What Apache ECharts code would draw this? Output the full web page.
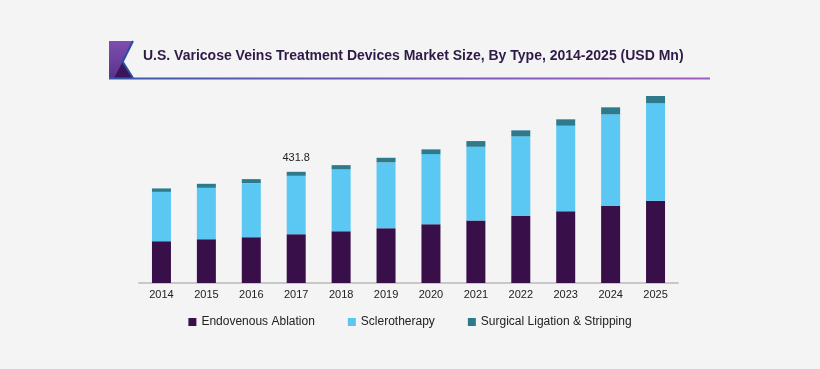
<!DOCTYPE html>
<html>
<head>
<meta charset="utf-8">
<script src="https://cdn.jsdelivr.net/npm/echarts@6/dist/echarts.min.js"></script>
<style>
html,body{margin:0;padding:0;background:#f4f4f4;}
#chart{width:820px;height:369px;}
</style>
</head>
<body>
<div id="chart"></div>
<script>
const years = ['2014','2015','2016','2017','2018','2019','2020','2021','2022','2023','2024','2025'];
const endovenous = [162.2,170.0,177.8,189.4,201.0,212.8,228.3,242.7,260.6,278.9,299.5,319.0];
const sclerotherapy = [191.8,199.6,210.0,226.8,240.0,255.6,272.3,286.3,308.9,331.8,355.5,378.9];
const surgical = [13.2,15.6,15.6,15.6,16.7,17.9,18.3,22.2,23.3,24.9,27.2,28.4];
const labelledYear = '2017';

const labelIdx = years.indexOf(labelledYear);
const totalAt = i => (endovenous[i] + sclerotherapy[i] + surgical[i]).toFixed(1);

const font = 'Liberation Sans, Arial, sans-serif';
const chart = echarts.init(document.getElementById('chart'), null, {renderer:'canvas'});
chart.setOption({
  backgroundColor: '#f4f4f4',
  animation: false,
  title: {
    text: 'U.S. Varicose Veins Treatment Devices Market Size, By Type, 2014-2025 (USD Mn)',
    left: 143, top: 49, padding: 0,
    textStyle: {fontFamily: font, fontSize: 14, fontWeight: 'bold', color: '#2e1a47'}
  },
  graphic: [
    {type:'polygon', shape:{points:[[109,41],[133,41],[122.7,61.7],[133,78],[109,78]]},
      style:{fill:new echarts.graphic.LinearGradient(0,0,0,1,[{offset:0,color:'#7d4fae'},{offset:1,color:'#5a3290'}])}},
    {type:'polygon', shape:{points:[[114,78],[122.7,61.7],[133,78]]}, style:{fill:'#3a1558'}},
    {type:'polyline', shape:{points:[[133,41],[122.7,61.7],[133,78]]}, style:{stroke:'#2b4ea6', lineWidth:2, fill:null}},
    {type:'line', shape:{x1:109,y1:78.5,x2:710,y2:78.5},
      style:{stroke:new echarts.graphic.LinearGradient(0,0,1,0,[{offset:0,color:'#3657ad'},{offset:0.3,color:'#5f58b8'},{offset:1,color:'#a05cc2'}]), lineWidth:2}}
  ],
  legend: {
    bottom: 36, left: 'center',
    itemWidth: 8, itemHeight: 8, itemGap: 33,
    icon: 'rect',
    textStyle: {fontFamily: font, fontSize: 12, color: '#222'},
    data: ['Endovenous Ablation','Sclerotherapy','Surgical Ligation & Stripping']
  },
  grid: {left: 139, right: 142, top: 77, bottom: 86},
  xAxis: {
    type: 'category', data: years,
    axisLine: {lineStyle: {color: '#c8c8c8', width: 2}},
    axisTick: {show: false},
    axisLabel: {fontFamily: font, fontSize: 11, color: '#222', margin: 6}
  },
  yAxis: {type:'value', min:0, max:800, show:false, splitLine:{show:false}},
  series: [
    {name:'Endovenous Ablation', type:'bar', stack:'t', barWidth:19, data:endovenous, itemStyle:{color:'#380f48'}},
    {name:'Sclerotherapy', type:'bar', stack:'t', barWidth:19, data:sclerotherapy, itemStyle:{color:'#5bc8f4'}},
    {name:'Surgical Ligation & Stripping', type:'bar', stack:'t', barWidth:19, itemStyle:{color:'#2e7a8d'},
      data: surgical.map((v,i) => i === labelIdx ? {value:v, label:{show:true, position:'top', distance:8, formatter: totalAt(i), fontFamily:font, fontSize:11, color:'#222'}} : v)}
  ]
});
</script>
</body>
</html>
